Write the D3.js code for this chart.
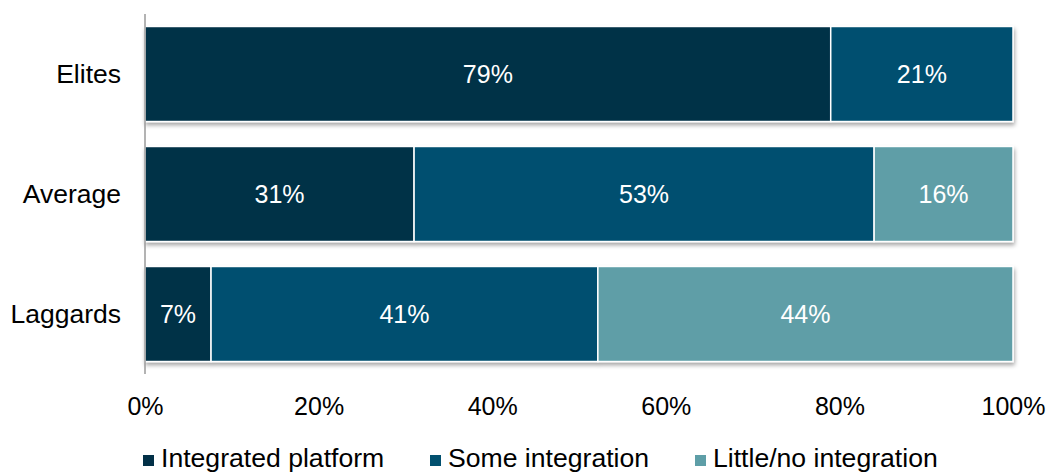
<!DOCTYPE html>
<html><head><meta charset="utf-8">
<script src="https://cdn.jsdelivr.net/npm/d3@7"></script>
<style>body{margin:0;background:#fff}svg{display:block}text{font-family:"Liberation Sans",Arial,sans-serif}</style>
</head><body><svg id="c" width="1049" height="473"></svg>
<script>
const categories = ["Elites", "Average", "Laggards"];
const seriesNames = ["Integrated platform", "Some integration", "Little/no integration"];
const integrated = [79, 31, 7];
const some = [21, 53, 41];
const little = [0, 16, 44];
const tickValues = [0, 0.2, 0.4, 0.6, 0.8, 1.0];
const colors = ["#023047", "#02506f", "#5e9ea7"];

const svg = d3.select("#c");
const defs = svg.append("defs");
const f = defs.append("filter").attr("id","sh").attr("x","-5%").attr("y","-10%").attr("width","110%").attr("height","130%");
f.append("feDropShadow").attr("dx",1).attr("dy",3).attr("stdDeviation",2).attr("flood-color","#000").attr("flood-opacity",0.35);

const x = d3.scaleLinear().domain([0,1]).range([145,1013]);
const y = d3.scaleBand().domain(categories).range([14,374]).paddingInner(0.208).paddingOuter(0.104);

const rows = categories.map((c,i)=>{
  const vals=[integrated[i],some[i],little[i]];
  const tot=d3.sum(vals);
  let acc=0;
  return vals.map((v,j)=>{const s={cat:c,v,j,x0:acc/tot,x1:(acc+v)/tot};acc+=v;return s;}).filter(s=>s.v>0);
});

const g = svg.append("g");
rows.forEach(r=>{
  const rg=g.append("g").attr("filter","url(#sh)");
  rg.selectAll("rect").data(r).join("rect")
    .attr("x",d=>x(d.x0)).attr("width",d=>x(d.x1)-x(d.x0))
    .attr("y",d=>y(d.cat)).attr("height",y.bandwidth())
    .attr("fill",d=>colors[d.j]).attr("stroke","#fff").attr("stroke-width",1.5);
});
rows.forEach(r=>{
  g.selectAll(null).data(r).join("text")
    .attr("x",d=>(x(d.x0)+x(d.x1))/2).attr("y",d=>y(d.cat)+y.bandwidth()/2+9)
    .attr("text-anchor","middle").attr("fill","#fff").attr("font-size",25)
    .text(d=>d.v+"%");
});

// y axis line
svg.append("line").attr("x1",145).attr("x2",145).attr("y1",14).attr("y2",374)
  .attr("stroke","#9a9a9a").attr("stroke-width",1.5);
svg.selectAll(".yl").data(categories).join("text")
  .attr("x",121).attr("y",d=>y(d)+y.bandwidth()/2+9).attr("text-anchor","end")
  .attr("font-size",26.5).attr("fill","#000").text(d=>d);

// x axis labels
const xAxis = d3.axisBottom(x).tickValues(tickValues).tickFormat(d3.format(".0%")).tickSize(0).tickPadding(0);
const xa = svg.append("g").attr("transform","translate(0,397)").call(xAxis);
xa.select(".domain").remove();
xa.selectAll("text").attr("font-size",25).attr("fill","#000").attr("dy","0.71em").style("font-family","'Liberation Sans',Arial,sans-serif");

// legend
const legX=[143,430,695];
const lg=svg.selectAll(".lg").data(seriesNames).join("g").attr("transform",(d,i)=>`translate(${legX[i]},455)`);
lg.append("rect").attr("width",11).attr("height",11).attr("fill",(d,i)=>colors[i]);
lg.append("text").attr("x",18).attr("y",12).attr("font-size",26.6).attr("fill","#000").text(d=>d);
</script></body></html>
